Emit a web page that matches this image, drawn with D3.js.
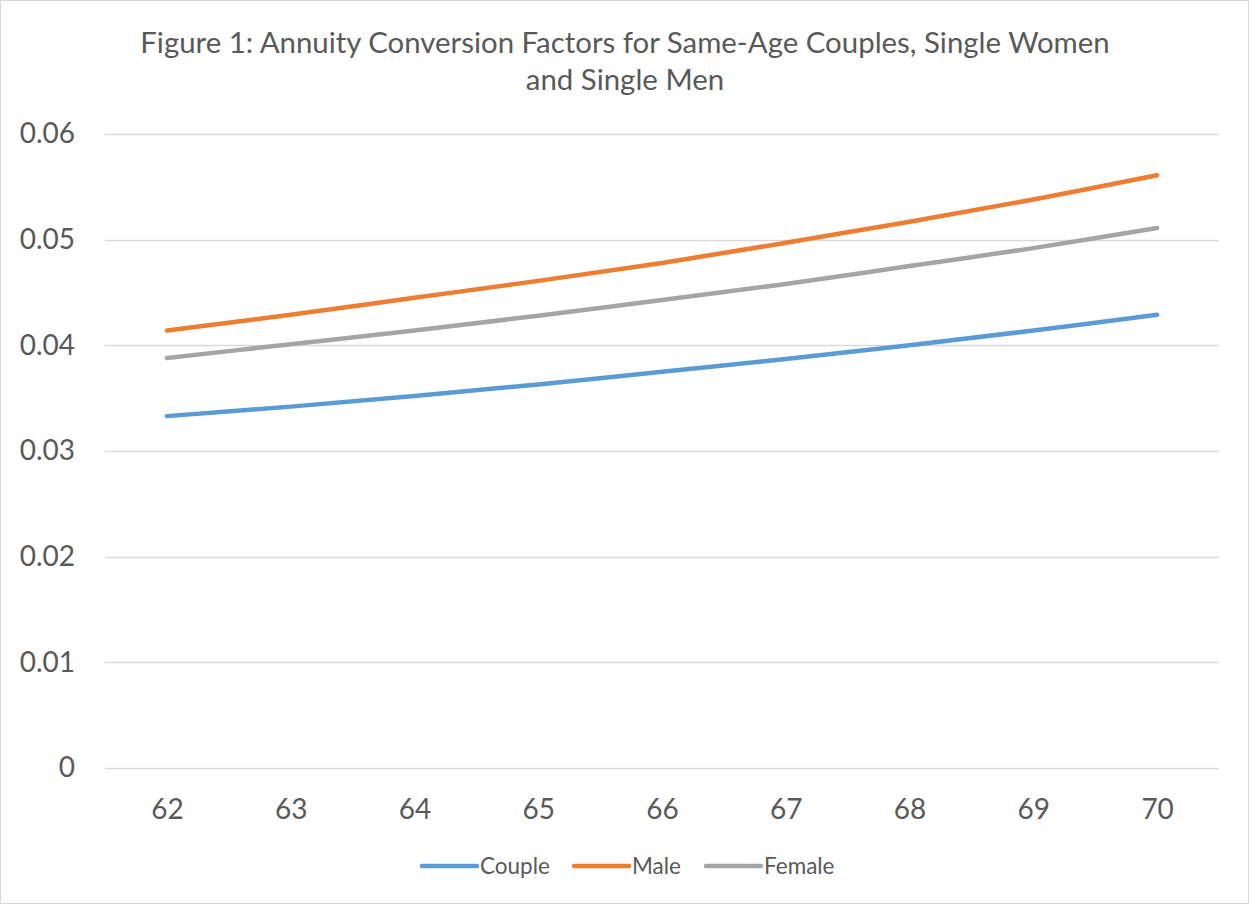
<!DOCTYPE html>
<html>
<head>
<meta charset="utf-8">
<script src="https://cdn.jsdelivr.net/npm/d3@7"></script>
<style>
  html, body { margin: 0; padding: 0; background: #fff; }
  svg { display: block; font-family: Lato, "Open Sans", sans-serif; }
</style>
</head>
<body>
<svg id="chart" width="1249" height="904"></svg>
<script>
// Ages on the horizontal axis
const ages = [62, 63, 64, 65, 66, 67, 68, 69, 70];
// Annuity conversion factors by household type
const couple = [0.0333, 0.0342, 0.0352, 0.0363, 0.0375, 0.0387, 0.0400, 0.0414, 0.0429];
const male   = [0.0414, 0.0429, 0.0445, 0.0461, 0.0478, 0.0497, 0.0517, 0.0538, 0.0561];
const female = [0.0388, 0.0401, 0.0414, 0.0428, 0.0443, 0.0458, 0.0475, 0.0492, 0.0511];
const yTicks = [0, 0.01, 0.02, 0.03, 0.04, 0.05, 0.06];
const seriesNames = ["Couple", "Male", "Female"];
const seriesColors = ["#5B9BD5", "#ED7D31", "#A5A5A5"];

const series = [couple, male, female].map((vals, i) => ({
  name: seriesNames[i], color: seriesColors[i],
  points: ages.map((a, j) => ({ age: a, v: vals[j] }))
}));

const svg = d3.select("#chart");
const W = 1249, H = 904;
const textColor = "#595959";
const font = "Lato, 'Open Sans', sans-serif";

// outer chart border
svg.append("rect")
  .attr("x", 0.5).attr("y", 0.5).attr("width", W - 1).attr("height", H - 1)
  .attr("fill", "#fff").attr("stroke", "#d9d9d9").attr("stroke-width", 1);

const x = d3.scalePoint().domain(ages).range([105, 1219]).padding(0.5);
const y = d3.scaleLinear().domain([0, 0.06]).range([768, 134]);

// title
const title = svg.append("text")
  .attr("text-anchor", "middle").attr("fill", textColor)
  .style("font-size", "29.4px");
title.append("tspan").attr("x", 625).attr("y", 53)
  .text("Figure 1: Annuity Conversion Factors for Same-Age Couples, Single Women");
title.append("tspan").attr("x", 625).attr("y", 90).text("and Single Men");

// horizontal gridlines
svg.append("g").selectAll("line").data(yTicks).join("line")
  .attr("x1", 105).attr("x2", 1219)
  .attr("y1", d => Math.round(y(d)) + 0.5).attr("y2", d => Math.round(y(d)) + 0.5)
  .attr("stroke", "#d9d9d9").attr("stroke-width", 1.3);

// y axis labels
const yAxis = d3.axisLeft(y).tickValues(yTicks).tickSize(0).tickPadding(0)
  .tickFormat(d => d === 0 ? "0" : d3.format(".2f")(d));
const gy = svg.append("g").attr("transform", "translate(75,0)").call(yAxis);
gy.select(".domain").remove();
gy.selectAll("text").attr("fill", textColor)
  .style("font-size", "28px").style("font-family", font);

// x axis labels
const xAxis = d3.axisBottom(x).tickSize(0).tickPadding(0);
const gx = svg.append("g").attr("transform", "translate(0,799)").call(xAxis);
gx.select(".domain").remove();
gx.selectAll("text").attr("fill", textColor)
  .style("font-size", "28px").style("font-family", font);

// series lines
const line = d3.line().x(d => x(d.age)).y(d => y(d.v)).curve(d3.curveCatmullRom.alpha(0.5));
svg.append("g").selectAll("path").data(series).join("path")
  .attr("d", d => line(d.points))
  .attr("fill", "none").attr("stroke", d => d.color)
  .attr("stroke-width", 4.5).attr("stroke-linecap", "round").attr("stroke-linejoin", "round");

// legend
const legendX = [422, 574, 706];
const lg = svg.append("g").selectAll("g").data(series).join("g")
  .attr("transform", (d, i) => `translate(${legendX[i]},866)`);
lg.append("line").attr("x1", 0).attr("x2", 55).attr("y1", 0).attr("y2", 0)
  .attr("stroke", d => d.color).attr("stroke-width", 4.5).attr("stroke-linecap", "round");
lg.append("text").attr("x", 58).attr("y", 8).attr("fill", textColor)
  .style("font-size", "22.5px").text(d => d.name);
</script>
</body>
</html>
